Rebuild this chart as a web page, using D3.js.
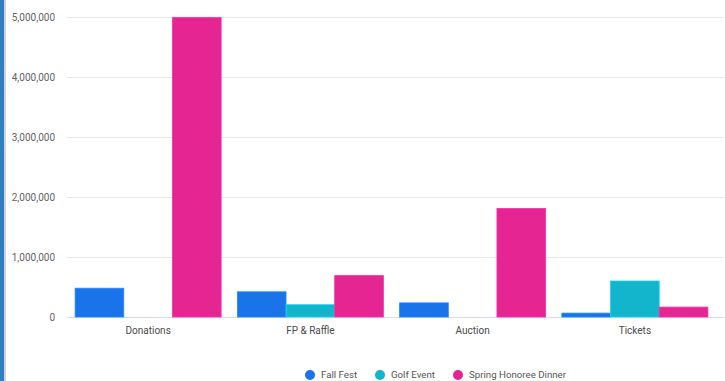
<!DOCTYPE html>
<html>
<head>
<meta charset="utf-8">
<script src="https://cdn.jsdelivr.net/npm/d3@7"></script>
<style>
  body { margin: 0; background: #fff; }
  svg { display: block; font-family: Roboto, sans-serif; }
</style>
</head>
<body>
<svg id="chart" width="725" height="381"></svg>
<script>
'use strict';

const categories = ['Donations', 'FP & Raffle', 'Auction', 'Tickets'];
const seriesNames = ['Fall Fest', 'Golf Event', 'Spring Honoree Dinner'];
const fallFest = [480000, 420000, 235000, 65000];
const golfEvent = [0, 205000, 0, 600000];
const springDinner = [4990000, 690000, 1810000, 165000];
const yTicks = [0, 1000000, 2000000, 3000000, 4000000, 5000000];
const colors = ['#1a73e8', '#12b5cb', '#e52592'];

const seriesValues = [fallFest, golfEvent, springDinner];

const svg = d3.select('#chart');

// left frame stripe
svg.append('rect').attr('x', 0).attr('y', 0).attr('width', 4).attr('height', 381).attr('fill', '#2d7fc1');
svg.append('rect').attr('x', 4).attr('y', 0).attr('width', 2).attr('height', 381).attr('fill', '#d4d4d4');

const x = d3.scaleBand()
  .domain(categories)
  .range([67, 716])
  .paddingInner(0.1)
  .paddingOuter(0.05);

const xInner = d3.scaleBand()
  .domain(seriesNames)
  .range([0, x.bandwidth()]);

const y = d3.scaleLinear()
  .domain([0, 5000000])
  .range([317, 17]);

// gridlines
svg.append('g')
  .selectAll('line')
  .data(yTicks)
  .enter().append('line')
  .attr('x1', 67)
  .attr('x2', 724)
  .attr('y1', d => y(d) + 0.5)
  .attr('y2', d => y(d) + 0.5)
  .attr('stroke', d => d === 0 ? '#d6dce8' : '#e8e8e8')
  .attr('stroke-width', 1);

// y labels
const yAxis = d3.axisLeft(y)
  .tickValues(yTicks)
  .tickSize(0)
  .tickPadding(0)
  .tickFormat(d3.format(','));

svg.append('g')
  .attr('transform', 'translate(55,0)')
  .call(yAxis)
  .call(g => g.select('.domain').remove())
  .selectAll('text')
  .attr('font-family', 'Roboto, sans-serif')
  .attr('font-size', 10)
  .attr('fill', '#5f6368');

// x labels
const xAxis = d3.axisBottom(x).tickSize(0).tickPadding(0);
svg.append('g')
  .attr('transform', 'translate(0,327)')
  .call(xAxis)
  .call(g => g.select('.domain').remove())
  .selectAll('text')
  .attr('font-family', 'Roboto, sans-serif')
  .attr('font-size', 10)
  .attr('fill', '#4a4a4a');

// bars
const groups = svg.append('g')
  .selectAll('g')
  .data(categories)
  .enter().append('g')
  .attr('transform', d => `translate(${x(d)},0)`);

groups.selectAll('rect')
  .data((d, i) => seriesNames.map((s, j) => ({ s: s, v: seriesValues[j][i], c: colors[j] })))
  .enter().append('rect')
  .filter(d => d.v > 0)
  .attr('x', d => xInner(d.s))
  .attr('y', d => y(d.v))
  .attr('width', xInner.bandwidth())
  .attr('height', d => y(0) - y(d.v))
  .attr('fill', d => d.c)
  .attr('stroke', d => d3.color(d.c).brighter(0.5))
  .attr('stroke-width', 0.8);

// legend
const legendX = [310, 380, 458];
const legend = svg.append('g')
  .selectAll('g')
  .data(seriesNames)
  .enter().append('g')
  .attr('transform', (d, i) => `translate(${legendX[i]},375)`);

legend.append('circle')
  .attr('r', 5)
  .attr('fill', (d, i) => colors[i]);

legend.append('text')
  .attr('x', 11)
  .attr('dy', '0.35em')
  .attr('font-size', 9.7)
  .attr('fill', '#555')
  .text(d => d);
</script>
</body>
</html>
